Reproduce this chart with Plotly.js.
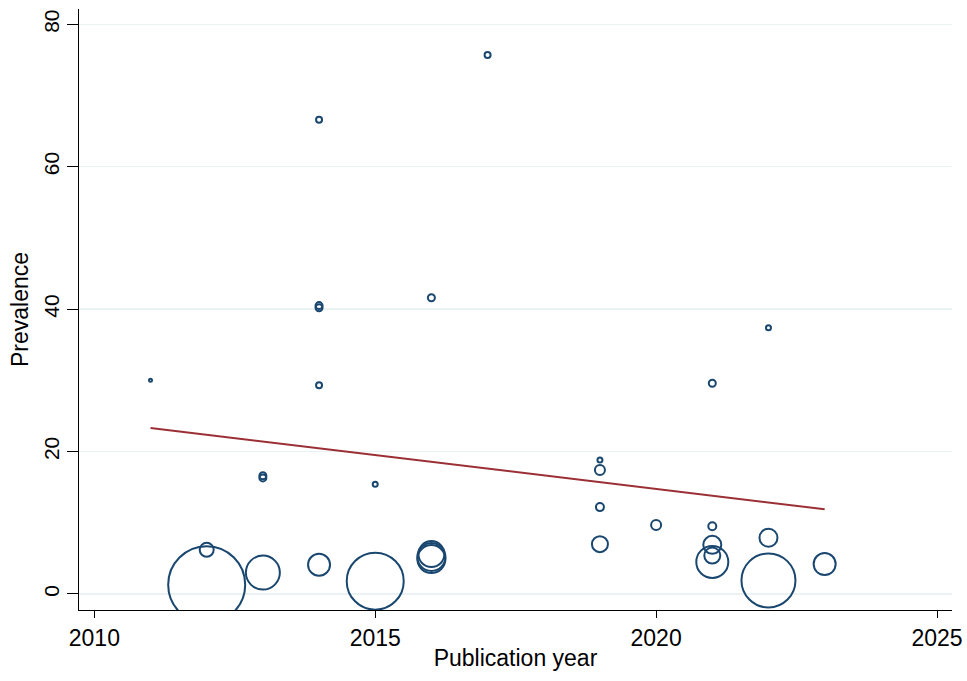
<!DOCTYPE html>
<html>
<head>
<meta charset="utf-8">
<script src="https://cdn.plot.ly/plotly-3.0.1.min.js"></script>
<style>html,body{margin:0;padding:0;background:#fff;}#chart{width:967px;height:681px;}</style>
</head>
<body>
<div id="chart"></div>
<script>
// Study-level data: publication year, prevalence (%), bubble diameter (px)
const years      = [2011, 2012, 2012, 2013, 2013, 2013, 2014, 2014, 2014, 2014, 2014, 2015, 2015, 2016, 2016, 2016, 2016, 2017, 2019, 2019, 2019, 2019, 2020, 2021, 2021, 2021, 2021, 2021, 2022, 2022, 2022, 2023];
const prevalence = [30.0, 1.3, 6.2, 3.0, 16.3, 16.6, 4.1, 66.6, 40.5, 40.2, 29.3, 1.8, 15.4, 41.6, 5.6, 5.2, 4.9, 75.7, 18.8, 17.4, 12.2, 7.0, 9.7, 29.6, 9.5, 6.9, 5.4, 4.5, 37.4, 7.9, 1.9, 4.2];
const bubbleSize = [3, 77, 14, 34, 7, 7, 22, 6, 7, 7, 6, 57, 5, 7, 26, 28, 28, 6, 5, 10, 8, 16, 10, 7, 8, 18, 16, 32, 5, 18, 54, 22];
// Fitted meta-regression line endpoints
const fitYears = [2011, 2023];
const fitPrev  = [23.3, 11.9];
const xTicks = [2010, 2015, 2020, 2025];
const yTicks = [0, 20, 40, 60, 80];

const navy = '#1a476f';
const traces = [
  {
    x: years, y: prevalence, type: 'scatter', mode: 'markers',
    marker: {
      size: bubbleSize, color: 'rgba(0,0,0,0)', opacity: 1,
      line: {color: navy, width: 2}
    },
    hoverinfo: 'x+y', showlegend: false
  },
  {
    x: fitYears, y: fitPrev, type: 'scatter', mode: 'lines',
    line: {color: '#9b2f35', width: 2}, showlegend: false
  }
];

const fam = '"Liberation Sans", Arial, sans-serif';
const xtf = {family: fam, size: 23, color: '#000'};
const ytf = {family: fam, size: 21, color: '#000'};
const ttf = {family: fam, size: 23, color: '#000'};
const layout = {
  width: 967, height: 681,
  paper_bgcolor: '#fff', plot_bgcolor: '#fff',
  margin: {l: 79, r: 15, t: 9, b: 71},
  font: xtf,
  showlegend: false,
  xaxis: {
    range: [2009.727, 2025.267], tickvals: xTicks, ticktext: xTicks.map(String),
    showgrid: false, zeroline: false,
    showline: true, linecolor: '#000', linewidth: 1,
    ticks: 'outside', ticklen: 7, tickcolor: '#000', tickwidth: 1,
    tickfont: xtf,
    title: {text: 'Publication year', font: ttf, standoff: 0}
  },
  yaxis: {
    range: [-2.25, 82.15], tickvals: yTicks, ticktext: yTicks.map(String),
    showgrid: true, gridcolor: '#eaf2f3', gridwidth: 1.5,
    zeroline: false,
    showline: true, linecolor: '#000', linewidth: 1,
    ticks: 'outside', ticklen: 11, tickcolor: '#000', tickwidth: 1,
    tickangle: -90,
    tickfont: ytf,
    title: {text: 'Prevalence', font: ttf, standoff: 4}
  }
};
Plotly.newPlot('chart', traces, layout, {displayModeBar: false, staticPlot: true});
</script>
</body>
</html>
